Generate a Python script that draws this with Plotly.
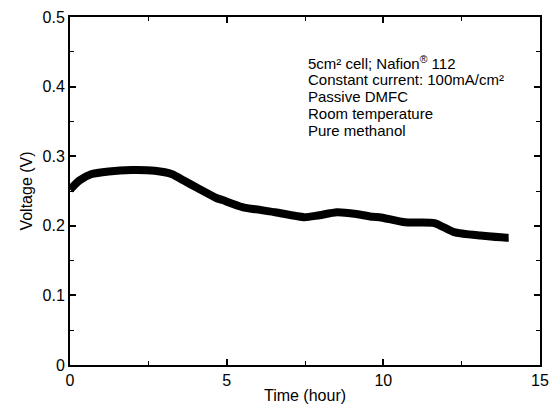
import plotly.graph_objects as go

# Cell voltage over time at constant current
time_h = [0.0, 0.3, 0.67, 1.24, 1.96, 2.7, 3.26, 3.63, 4.04, 4.67, 4.87, 5.5,
          6.55, 7.48, 7.9, 8.52, 9.14, 9.66, 9.88, 10.7, 11.63, 12.25, 13.1, 13.93, 14.0]
voltage_v = [0.252, 0.265, 0.274, 0.278, 0.280, 0.279, 0.274, 0.265, 0.255, 0.240, 0.237, 0.227,
             0.2195, 0.2124, 0.2147, 0.2195, 0.217, 0.213, 0.2124, 0.205, 0.204, 0.191, 0.186, 0.183, 0.183]

x_ticks = [0, 5, 10, 15]
y_ticks = [0, 0.1, 0.2, 0.3, 0.4, 0.5]
y_tick_labels = ["0", "0.1", "0.2", "0.3", "0.4", "0.5"]

notes = [
    "5cm² cell; Nafion<sup>®</sup> 112",
    "Constant current: 100mA/cm²",
    "Passive DMFC",
    "Room temperature",
    "Pure methanol",
]

FONT = "Liberation Sans, Arial, sans-serif"

fig = go.Figure()
fig.add_trace(go.Scatter(
    x=time_h, y=voltage_v, mode="lines",
    line=dict(color="black", width=8, shape="spline", smoothing=0.6),
    showlegend=False,
))

axis_common = dict(
    showgrid=False, zeroline=False, showline=True, linecolor="black", linewidth=2,
    mirror="ticks", ticks="inside", ticklen=6, tickwidth=1.5, tickcolor="black",
    tickfont=dict(family=FONT, size=16, color="black"),
    minor=dict(ticks="inside", ticklen=4, tickwidth=1.2, tickcolor="black"),
)

fig.update_xaxes(range=[0, 15], tickvals=x_ticks, minor_dtick=2.5,
                 title=dict(text="Time (hour)", standoff=2,
                            font=dict(family=FONT, size=16, color="black")),
                 **axis_common)
fig.update_yaxes(range=[0, 0.5], tickvals=y_ticks, ticktext=y_tick_labels, minor_dtick=0.05,
                 title=dict(text="Voltage (V)", standoff=6,
                            font=dict(family=FONT, size=16, color="black")),
                 **axis_common)

# Condition notes, one line per annotation for tight line spacing
for i, line in enumerate(notes):
    fig.add_annotation(
        xref="paper", yref="paper", x=0.505, y=0.868 - i * 0.0485,
        xanchor="left", yanchor="middle", borderpad=0,
        text=line, showarrow=False, align="left",
        font=dict(family=FONT, size=15, color="black"),
    )

fig.update_layout(
    width=558, height=411,
    margin=dict(l=70, r=9, t=17, b=44),
    paper_bgcolor="white", plot_bgcolor="white",
)

fig.write_html("out.html")
